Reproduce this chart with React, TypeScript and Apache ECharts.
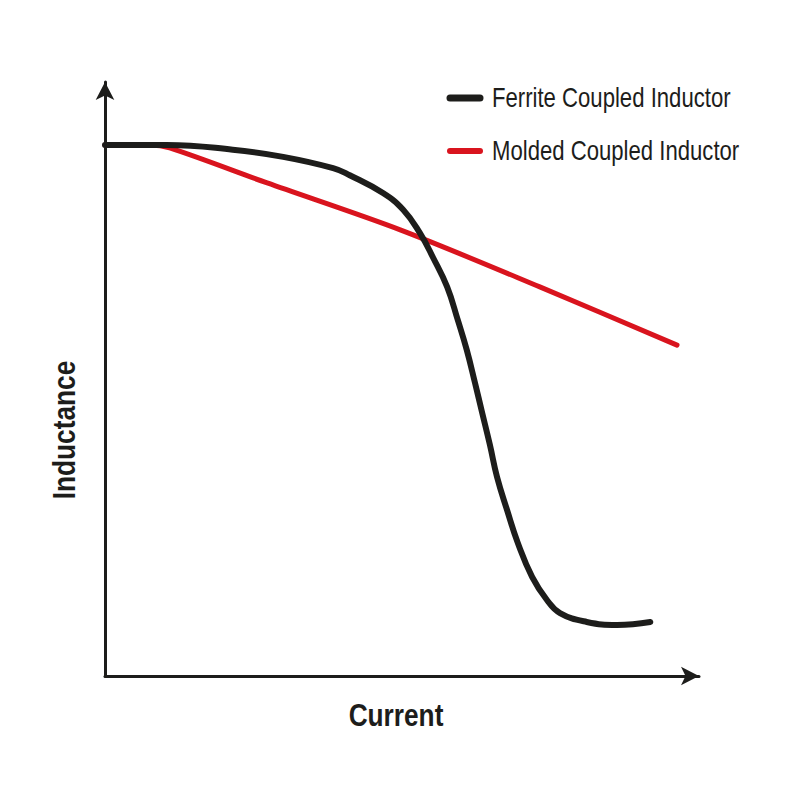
import React, { useEffect, useRef } from "react";
import * as echarts from "echarts";

// Current (arbitrary units, 0-100) vs Inductance (arbitrary units, 0-100)
const ferriteCurrent = [0, 10.4, 21.5, 30.0, 38.4, 41.2, 46.8, 50.2, 53.0, 55.2, 57.6, 59.4, 60.9, 62.3, 63.5, 64.8, 66.0, 67.7, 69.5, 71.9, 74.4, 76.6, 81.1, 86.2, 91.8];
const ferriteInductance = [89.4, 89.4, 88.6, 87.4, 85.5, 84.3, 81.3, 78.5, 74.6, 70.5, 65.5, 59.9, 54.9, 49.3, 44.3, 38.9, 33.5, 27.9, 22.4, 16.7, 12.8, 10.6, 9.1, 8.6, 9.1];
const moldedCurrent = [0, 7.6, 10.9, 27.3, 49.7, 73.2, 96.3];
const moldedInductance = [89.4, 89.4, 88.9, 83.0, 75.1, 65.5, 55.7];

const seriesNames = ["Ferrite Coupled Inductor", "Molded Coupled Inductor"];
const axisTitles = { x: "Current", y: "Inductance" };

const BLACK = "#1d1d1b";
const RED = "#d9141e";
const FONT = "'Liberation Sans', Arial, Helvetica, sans-serif";
const NARROW_SCALE = 0.82;

export default function App() {
  const ref = useRef<HTMLDivElement>(null);

  useEffect(() => {
    if (!ref.current) return;
    const chart = echarts.init(ref.current, undefined, { renderer: "svg" });
    const ferrite = ferriteCurrent.map((x, i) => [x, ferriteInductance[i]]);
    const molded = moldedCurrent.map((x, i) => [x, moldedInductance[i]]);

    const legendEntry = (name: string, color: string, y: number, w: number) => [
      {
        type: "line",
        shape: { x1: 450, y1: y, x2: 480, y2: y },
        style: { stroke: color, lineWidth: w, lineCap: "round" },
      },
      {
        type: "text",
        x: 492,
        y: y,
        scaleX: NARROW_SCALE,
        style: {
          text: name,
          fontFamily: FONT,
          fontSize: 27,
          fill: BLACK,
          textAlign: "left",
          textVerticalAlign: "middle",
        },
      },
    ];

    chart.setOption({
      animation: false,
      backgroundColor: "#ffffff",
      grid: { left: 105, top: 82, width: 594, height: 594, containLabel: false },
      xAxis: {
        type: "value",
        min: 0,
        max: 100,
        axisLine: {
          show: true,
          symbol: ["none", "arrow"],
          symbolSize: [14, 18],
          lineStyle: { color: BLACK, width: 3 },
        },
        axisTick: { show: false },
        axisLabel: { show: false },
        splitLine: { show: false },
      },
      yAxis: {
        type: "value",
        min: 0,
        max: 100,
        axisLine: {
          show: true,
          symbol: ["none", "arrow"],
          symbolSize: [14, 18],
          lineStyle: { color: BLACK, width: 3 },
        },
        axisTick: { show: false },
        axisLabel: { show: false },
        splitLine: { show: false },
      },
      graphic: [
        ...legendEntry(seriesNames[0], BLACK, 98, 7),
        ...legendEntry(seriesNames[1], RED, 151, 6),
        {
          type: "text",
          x: 396,
          y: 715,
          scaleX: NARROW_SCALE,
          style: {
            text: axisTitles.x,
            fontFamily: FONT,
            fontWeight: "bold",
            fontSize: 32,
            fill: BLACK,
            textAlign: "center",
            textVerticalAlign: "middle",
          },
        },
        {
          type: "text",
          x: 64,
          y: 430,
          rotation: Math.PI / 2,
          scaleX: NARROW_SCALE,
          style: {
            text: axisTitles.y,
            fontFamily: FONT,
            fontWeight: "bold",
            fontSize: 32,
            fill: BLACK,
            textAlign: "center",
            textVerticalAlign: "middle",
          },
        },
      ],
      series: [
        {
          name: seriesNames[0],
          type: "line",
          data: ferrite,
          smooth: 0.45,
          symbol: "none",
          color: BLACK,
          lineStyle: { color: BLACK, width: 6, cap: "round", join: "round" },
          z: 3,
        },
        {
          name: seriesNames[1],
          type: "line",
          data: molded,
          smooth: 0.3,
          symbol: "none",
          color: RED,
          lineStyle: { color: RED, width: 5, cap: "round", join: "round" },
          z: 2,
        },
      ],
    });
    return () => chart.dispose();
  }, []);

  return (
    <div
      ref={ref}
      style={{ position: "fixed", left: 0, top: 0, width: 800, height: 800, background: "#fff" }}
    />
  );
}
